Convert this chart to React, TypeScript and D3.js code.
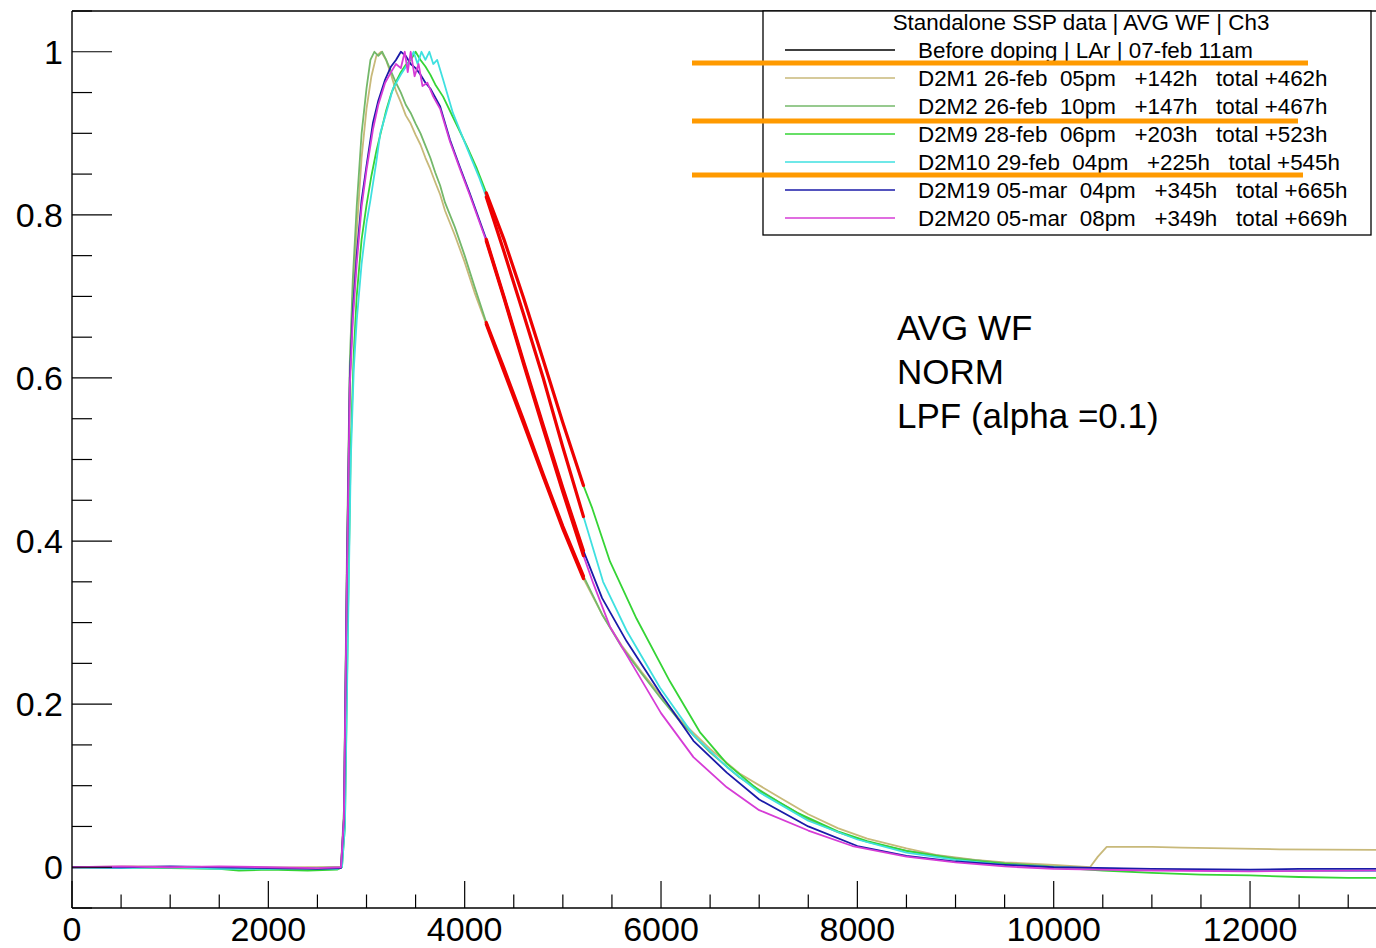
import React from "react";
import * as d3 from "d3";

type Pt = [number, number];

// ---- data (x in ns-like ticks, y normalised amplitude) ----
const d2m1: Pt[] = [
  [0, 0], [600, 0.001], [1200, 0], [1800, -0.001], [2400, 0], [2740, 0], [2770, 0.06], [2800, 0.36], [2830, 0.6],
  [2860, 0.7], [2900, 0.78], [2950, 0.87], [3000, 0.93], [3050, 0.97], [3100, 0.995], [3150, 1.0], [3200, 0.99],
  [3250, 0.972], [3300, 0.952], [3350, 0.938], [3400, 0.922], [3450, 0.912], [3500, 0.898], [3550, 0.886],
  [3600, 0.87], [3650, 0.856], [3700, 0.84], [3750, 0.825], [3800, 0.805], [3900, 0.775], [4000, 0.742],
  [4100, 0.705], [4220, 0.666], [4400, 0.608], [4600, 0.544], [4800, 0.479], [5000, 0.415], [5210, 0.354],
  [5400, 0.31], [5600, 0.272], [5800, 0.24], [6000, 0.21], [6200, 0.18], [6500, 0.145], [6800, 0.115],
  [7200, 0.086], [7500, 0.065], [7800, 0.048], [8100, 0.035], [8500, 0.023], [8800, 0.015], [9200, 0.009],
  [9500, 0.006], [10000, 0.003], [10370, 0.0], [10450, 0.013], [10540, 0.025], [11000, 0.025], [11300, 0.024],
  [12300, 0.022], [13600, 0.021],
];
const d2m2: Pt[] = [
  [0, 0], [600, 0], [1200, -0.001], [1800, 0], [2400, -0.001], [2740, 0], [2770, 0.07], [2800, 0.38], [2830, 0.62],
  [2860, 0.72], [2900, 0.81], [2950, 0.9], [3000, 0.955], [3040, 0.99], [3080, 1.0], [3120, 0.995], [3160, 1.0],
  [3200, 0.99], [3250, 0.976], [3300, 0.962], [3350, 0.95], [3400, 0.935], [3450, 0.925], [3500, 0.912],
  [3550, 0.9], [3600, 0.885], [3650, 0.87], [3700, 0.852], [3750, 0.836], [3800, 0.815], [3900, 0.785],
  [4000, 0.75], [4100, 0.712], [4220, 0.668], [4400, 0.612], [4600, 0.548], [4800, 0.482], [5000, 0.418],
  [5210, 0.357], [5400, 0.31], [5600, 0.27], [5800, 0.238], [6000, 0.207], [6200, 0.178], [6500, 0.141],
  [6800, 0.11], [7200, 0.08], [7500, 0.059], [7800, 0.043], [8100, 0.031], [8500, 0.02], [9000, 0.011],
  [9500, 0.005], [10000, 0.001], [10500, -0.002], [11000, -0.003], [12000, -0.004], [13600, -0.005],
];
const d2m9: Pt[] = [
  [0, 0], [500, 0], [1000, -0.001], [1500, -0.002], [1700, -0.004], [2000, -0.003], [2400, -0.004],
  [2700, -0.003], [2750, 0], [2780, 0.05], [2810, 0.3], [2840, 0.52], [2870, 0.63], [2900, 0.7], [2950, 0.77],
  [3000, 0.812], [3050, 0.848], [3100, 0.878], [3150, 0.903], [3200, 0.928], [3250, 0.948], [3300, 0.963],
  [3350, 0.975], [3400, 0.984], [3450, 0.99], [3500, 1.0], [3550, 0.99], [3600, 0.982], [3650, 0.972],
  [3700, 0.96], [3780, 0.945], [3880, 0.92], [4020, 0.885], [4120, 0.858], [4220, 0.827], [4400, 0.77],
  [4600, 0.698], [4800, 0.622], [5000, 0.545], [5210, 0.468], [5300, 0.44], [5480, 0.375], [5750, 0.305],
  [6090, 0.228], [6400, 0.165], [6670, 0.127], [7000, 0.094], [7400, 0.066], [7800, 0.044], [8100, 0.032],
  [8500, 0.02], [9000, 0.01], [9500, 0.004], [10000, 0.0], [10500, -0.004], [11000, -0.007], [11500, -0.009],
  [12000, -0.01], [12500, -0.012], [13000, -0.013], [13600, -0.013],
];
const d2m10: Pt[] = [
  [0, 0], [500, -0.001], [1000, 0], [1500, -0.002], [2000, -0.002], [2400, -0.001], [2700, -0.002], [2750, 0],
  [2780, 0.05], [2810, 0.28], [2840, 0.5], [2870, 0.61], [2900, 0.67], [2950, 0.74], [3000, 0.79], [3040, 0.818],
  [3100, 0.865], [3140, 0.9], [3200, 0.925], [3270, 0.955], [3350, 0.972], [3420, 0.985], [3480, 1.0],
  [3520, 0.985], [3560, 1.0], [3600, 0.99], [3640, 1.0], [3680, 0.985], [3720, 0.99], [3780, 0.966],
  [3880, 0.925], [4020, 0.883], [4150, 0.845], [4220, 0.822], [4400, 0.755], [4600, 0.678], [4800, 0.6],
  [5000, 0.515], [5210, 0.43], [5410, 0.35], [5650, 0.29], [5990, 0.22], [6330, 0.162], [6670, 0.123],
  [7000, 0.092], [7500, 0.057], [8000, 0.034], [8500, 0.018], [9000, 0.009], [9500, 0.003], [10000, 0.0],
  [11000, -0.003], [12000, -0.004], [13600, -0.005],
];
const d2m19: Pt[] = [
  [0, 0], [500, 0], [1000, 0.001], [1500, 0], [2000, -0.001], [2500, -0.002], [2740, -0.001], [2770, 0.06],
  [2800, 0.36], [2830, 0.6], [2860, 0.68], [2900, 0.75], [2950, 0.818], [3000, 0.86], [3066, 0.913],
  [3120, 0.94], [3190, 0.966], [3250, 0.982], [3300, 0.99], [3350, 1.0], [3400, 0.995], [3450, 0.985],
  [3500, 0.98], [3550, 0.972], [3600, 0.962], [3650, 0.955], [3750, 0.933], [3850, 0.892], [3950, 0.859],
  [4050, 0.827], [4220, 0.77], [4400, 0.7], [4600, 0.62], [4800, 0.542], [5000, 0.465], [5210, 0.388],
  [5400, 0.33], [5650, 0.277], [6000, 0.212], [6330, 0.155], [6670, 0.116], [7000, 0.083], [7500, 0.05],
  [8000, 0.026], [8500, 0.014], [9000, 0.007], [9500, 0.003], [10000, 0.0], [11000, -0.002], [12000, -0.003],
  [12500, -0.002], [13600, -0.002],
];
const d2m20: Pt[] = [
  [0, 0], [500, 0.001], [1000, 0], [1500, 0.001], [2000, 0], [2500, -0.001], [2740, 0], [2770, 0.06],
  [2800, 0.35], [2830, 0.59], [2860, 0.67], [2900, 0.74], [2950, 0.81], [3000, 0.855], [3066, 0.905],
  [3120, 0.935], [3190, 0.962], [3250, 0.975], [3300, 0.985], [3350, 0.98], [3390, 1.0], [3420, 0.975],
  [3450, 1.0], [3490, 0.97], [3530, 0.985], [3570, 0.958], [3620, 0.962], [3680, 0.945], [3750, 0.93],
  [3850, 0.89], [3950, 0.857], [4050, 0.825], [4220, 0.768], [4400, 0.698], [4600, 0.617], [4800, 0.538],
  [5000, 0.46], [5210, 0.382], [5310, 0.348], [5480, 0.295], [5720, 0.246], [6000, 0.189], [6330, 0.135],
  [6670, 0.098], [7000, 0.07], [7500, 0.045], [7950, 0.026], [8500, 0.013], [9000, 0.006], [9500, 0.001],
  [10000, -0.002], [11000, -0.004], [12000, -0.005], [13600, -0.004],
];

const seriesData: Pt[][] = [d2m1, d2m2, d2m9, d2m10, d2m19, d2m20];
const seriesColors = ["#c8b97a", "#74b86a", "#35d435", "#3fe0e0", "#1a1aa8", "#d63cd6"];
const fitRange: [number, number] = [4220, 5210];

const legendTitle = "Standalone SSP data | AVG WF | Ch3";
const legendLabels = [
  "Before doping | LAr | 07-feb 11am",
  "D2M1 26-feb  05pm   +142h   total +462h",
  "D2M2 26-feb  10pm   +147h   total +467h",
  "D2M9 28-feb  06pm   +203h   total +523h",
  "D2M10 29-feb  04pm   +225h   total +545h",
  "D2M19 05-mar  04pm   +345h   total +665h",
  "D2M20 05-mar  08pm   +349h   total +669h",
];
const legendColors = ["#000000", ...seriesColors];
const strikeAfterRows = [0, 2, 4];
const strikeEnds = [1308, 1298, 1303];

const xMajorTicks = [0, 2000, 4000, 6000, 8000, 10000, 12000];
const yMajorTicks = [0, 0.2, 0.4, 0.6, 0.8, 1];
const annotationLines = ["AVG WF", "NORM", "LPF (alpha =0.1)"];

const W = 1376;
const H = 948;
const FONT = "'Liberation Sans', Arial, Helvetica, sans-serif";

export default function App() {
  const x = d3.scaleLinear().domain([0, 13600]).range([72, 72 + 13600 * 0.09817]);
  const y = d3.scaleLinear().domain([-0.05, 1.05]).range([908, 11]);
  const line = d3.line<Pt>().x((d) => x(d[0])).y((d) => y(d[1]));

  const xMinor = d3.range(0, 13601, 500).filter((v) => v % 2000 !== 0);
  const yMinor = d3.range(-0.05, 1.0501, 0.05).filter((v) => Math.abs(v * 5 - Math.round(v * 5)) > 1e-6);

  const x0 = x(0);
  const yB = y(-0.05);
  const yT = y(1.05);
  const xR = x(13600);

  const legX = 763, legY = 11, legW = 608, legH = 224;
  const rowY = (i: number) => 50 + i * 28;

  return (
    <svg width={W} height={H} style={{ position: "absolute", left: 0, top: 0, background: "#fff" }}
      fontFamily={FONT}>
      <defs>
        <clipPath id="frame">
          <rect x={x0} y={yT} width={xR - x0} height={yB - yT} />
        </clipPath>
      </defs>
      <rect x={0} y={0} width={W} height={H} fill="#fff" />

      {/* curves */}
      <g clipPath="url(#frame)" fill="none">
        {seriesData.map((d, i) => (
          <path key={i} d={line(d) || ""} stroke={seriesColors[i]} strokeWidth={1.8} strokeLinejoin="round" />
        ))}
        {seriesData.map((d, i) => (
          <path key={"fit" + i}
            d={line(d.filter((p) => p[0] >= fitRange[0] && p[0] <= fitRange[1])) || ""}
            stroke="#ee0000" strokeWidth={3.2} strokeLinecap="round" />
        ))}
      </g>

      {/* frame */}
      <g stroke="#000" strokeWidth={1.4} fill="none">
        <line x1={x0} y1={yT} x2={x0} y2={yB} />
        <line x1={x0} y1={yB} x2={xR} y2={yB} />
        <line x1={x0} y1={yT} x2={xR} y2={yT} />
      </g>

      {/* x ticks */}
      <g stroke="#000" strokeWidth={1.2}>
        {xMajorTicks.map((v) => (
          <line key={v} x1={x(v)} x2={x(v)} y1={yB} y2={yB - 27} />
        ))}
        {xMinor.map((v) => (
          <line key={v} x1={x(v)} x2={x(v)} y1={yB} y2={yB - 13.5} />
        ))}
      </g>
      <g fontSize={34} textAnchor="middle" fill="#000">
        {xMajorTicks.map((v) => (
          <text key={v} x={x(v)} y={941}>{v}</text>
        ))}
      </g>

      {/* y ticks */}
      <g stroke="#000" strokeWidth={1.2}>
        {yMajorTicks.map((v) => (
          <line key={v} x1={x0} x2={x0 + 40} y1={y(v)} y2={y(v)} />
        ))}
        {yMinor.map((v, i) => (
          <line key={i} x1={x0} x2={x0 + 20} y1={y(v)} y2={y(v)} />
        ))}
      </g>
      <g fontSize={34} textAnchor="end" fill="#000">
        {yMajorTicks.map((v) => (
          <text key={v} x={63} y={y(v) + 12}>{d3.format("~g")(v)}</text>
        ))}
      </g>

      {/* legend */}
      <rect x={legX} y={legY} width={legW} height={legH} fill="#fff" stroke="#000" strokeWidth={1.3} />
      <text x={1081} y={30} fontSize={22.4} textAnchor="middle" fill="#000">{legendTitle}</text>
      {legendLabels.map((t, i) => (
        <g key={i}>
          <line x1={785} x2={895} y1={rowY(i)} y2={rowY(i)} stroke={legendColors[i]} strokeWidth={1.3} />
          <text x={918} y={rowY(i) + 8} fontSize={22.4} fill="#000" style={{ whiteSpace: "pre" }}>{t}</text>
        </g>
      ))}

      {/* annotation */}
      <g fontSize={35} fill="#000">
        {annotationLines.map((t, i) => (
          <text key={i} x={897} y={339.5 + i * 44}>{t}</text>
        ))}
      </g>

      {/* orange strike lines */}
      {strikeAfterRows.map((r, i) => (
        <line key={i} x1={692} x2={strikeEnds[i]} y1={rowY(r) + 13 + (i === 1 ? 2 : 0)} y2={rowY(r) + 13 + (i === 1 ? 2 : 0)}
          stroke="#ff9a00" strokeWidth={5} />
      ))}
    </svg>
  );
}
